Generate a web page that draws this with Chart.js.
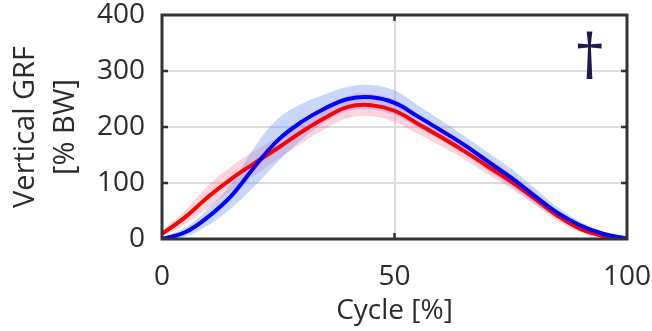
<!DOCTYPE html>
<html><head><meta charset="utf-8">
<script src="https://cdn.jsdelivr.net/npm/chart.js@4.4.0/dist/chart.umd.min.js"></script>
<style>html,body{margin:0;padding:0;background:#fff}#wrap{width:652px;height:331px}</style>
</head><body><div id="wrap"><canvas id="c" width="652" height="331"></canvas></div>
<script>
const cycle    = [0, 5, 10, 15, 20, 25, 30, 35, 40, 45, 50, 55, 60, 65, 70, 75, 80, 85, 90, 95, 100];
const blueMean = [0, 12, 40, 78, 130, 177, 209, 233, 250, 253, 243, 219, 194, 168, 139, 110, 78, 47, 24, 9, 1];
const blueSD   = [3, 8, 15, 22, 35, 38, 32, 25, 22, 22, 22, 20, 18, 16, 16, 16, 14, 10, 7, 4, 2];
const redMean  = [9, 39, 76, 108, 136, 163, 191, 216, 236, 239, 229, 206, 182, 157, 130, 103, 73, 42, 18, 5, 0];
const redSD    = [5, 12, 20, 22, 22, 20, 20, 20, 20, 20, 20, 18, 16, 15, 14, 13, 11, 9, 6, 3, 1];
const yTicks = [0, 100, 200, 300, 400];
const xTicks = [0, 50, 100];
const yTitle = ['Vertical GRF', '[% BW]'];
const xTitle = 'Cycle [%]';
const marker = '\u2020';

const pts = (arr) => cycle.map((c, i) => ({x: c, y: arr[i]}));
const band = (m, s, sign) => cycle.map((c, i) => ({x: c, y: m[i] + sign * s[i]}));

const FONT = {family: "'Open Sans'", size: 28};
const TXT = '#2b2b2b';
const TENSION = 0.4;

const boxPlugin = {
  id: 'box',
  afterDatasetsDraw(chart) {
    const {ctx, chartArea: a, scales: {x, y}} = chart;
    ctx.save();
    ctx.strokeStyle = '#333333';
    ctx.lineWidth = 3;
    ctx.strokeRect(a.left, a.top, a.right - a.left, a.bottom - a.top);
    ctx.lineWidth = 2.5;
    ctx.beginPath();
    yTicks.slice(1, -1).forEach(v => {
      const p = y.getPixelForValue(v);
      ctx.moveTo(a.left, p); ctx.lineTo(a.left + 6, p);
      ctx.moveTo(a.right, p); ctx.lineTo(a.right - 6, p);
    });
    xTicks.slice(1, -1).forEach(v => {
      const p = x.getPixelForValue(v);
      ctx.moveTo(p, a.top); ctx.lineTo(p, a.top + 6);
      ctx.moveTo(p, a.bottom); ctx.lineTo(p, a.bottom - 6);
    });
    ctx.stroke();
    ctx.restore();
  },
  afterDraw(chart) {
    const {ctx, scales: {x, y}} = chart;
    ctx.save();
    ctx.fillStyle = '#1f1a50';
    ctx.font = "62px 'Open Sans'";
    ctx.textAlign = 'center';
    ctx.textBaseline = 'middle';
    ctx.fillText(marker, x.getPixelForValue(92), y.getPixelForValue(317));
    ctx.restore();
  }
};

const line = (label, data, color, order) => ({label, data, borderColor: color, borderWidth: 4, pointRadius: 0, fill: false, order, tension: TENSION});
const edge = (label, data, fill, bg, order) => ({label, data, borderWidth: 0, borderColor: 'rgba(0,0,0,0)', pointRadius: 0, fill, backgroundColor: bg, order, tension: TENSION});

new Chart(document.getElementById('c'), {
  type: 'line',
  data: {
    datasets: [
      line('blue', pts(blueMean), '#0000ff', 0),
      line('red', pts(redMean), '#ff0000', 1),
      edge('blueHi', band(blueMean, blueSD, 1), '+1', 'rgba(100,140,245,0.35)', 2),
      edge('blueLo', band(blueMean, blueSD, -1), false, 'rgba(0,0,0,0)', 3),
      edge('redHi', band(redMean, redSD, 1), '+1', 'rgba(250,100,130,0.28)', 4),
      edge('redLo', band(redMean, redSD, -1), false, 'rgba(0,0,0,0)', 5)
    ]
  },
  options: {
    responsive: false,
    animation: false,
    devicePixelRatio: 1,
    layout: {padding: {top: 15, right: 25, left: 0, bottom: 0}},
    plugins: {legend: {display: false}, tooltip: {enabled: false}},
    scales: {
      x: {
        type: 'linear', min: 0, max: 100,
        afterBuildTicks: (s) => { s.ticks = xTicks.map(v => ({value: v})); },
        afterFit: (s) => { s.height = 92; s.paddingLeft = 0; s.paddingRight = 0; },
        border: {display: false},
        grid: {drawTicks: false, lineWidth: 2, color: (c) => (c.tick && (c.tick.value === 0 || c.tick.value === 100)) ? 'rgba(0,0,0,0)' : '#dcdcdc'},
        ticks: {font: FONT, color: TXT, padding: 21, maxRotation: 0, autoSkip: false},
        title: {display: true, text: xTitle, font: FONT, color: TXT, padding: {top: 0, bottom: 3}}
      },
      y: {
        min: 0, max: 400,
        afterBuildTicks: (s) => { s.ticks = yTicks.map(v => ({value: v})); },
        afterFit: (s) => { s.width = 162; s.paddingTop = 0; s.paddingBottom = 0; },
        border: {display: false},
        grid: {drawTicks: false, lineWidth: 2, color: (c) => (c.tick && (c.tick.value === 0 || c.tick.value === 400)) ? 'rgba(0,0,0,0)' : '#dcdcdc'},
        ticks: {font: FONT, color: TXT, padding: 17},
        title: {display: true, text: yTitle, font: {family: "'Open Sans'", size: 29, lineHeight: 1.4}, color: TXT, padding: {top: 5, bottom: 0}}
      }
    }
  },
  plugins: [boxPlugin]
});
</script></body></html>
